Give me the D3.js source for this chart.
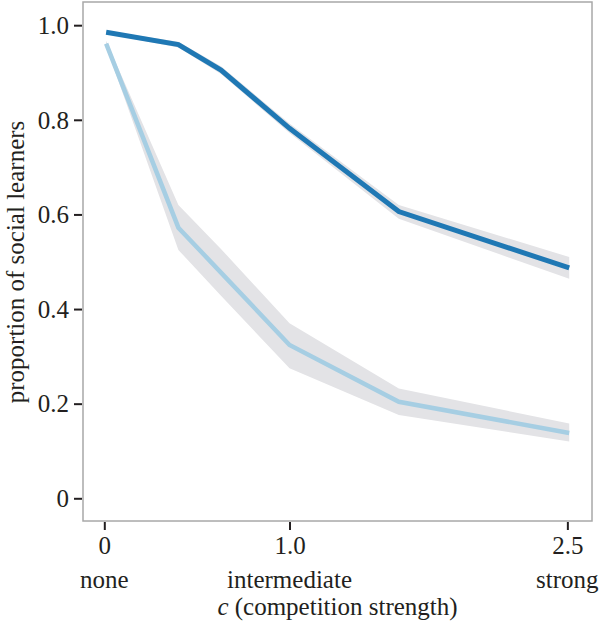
<!DOCTYPE html>
<html>
<head>
<meta charset="utf-8">
<script src="https://cdn.jsdelivr.net/npm/d3@7"></script>
<style>
  html, body { margin: 0; padding: 0; background: #fff; }
  svg { display: block; }
  text { font-family: "Liberation Serif", "DejaVu Serif", serif; fill: #231f20; }
</style>
</head>
<body>
<svg id="chart" width="599" height="624"></svg>
<script>
// ---- data ----
const xValues = [0.01, 0.4, 0.63, 1.0, 1.59, 2.51];
const strongMean  = [0.985, 0.959, 0.905, 0.782, 0.606, 0.487];
const strongLower = [0.982, 0.953, 0.897, 0.772, 0.591, 0.464];
const strongUpper = [0.988, 0.965, 0.913, 0.792, 0.620, 0.510];

const weakMean  = [0.961, 0.572, 0.477, 0.324, 0.204, 0.138];
const weakLower = [0.955, 0.525, 0.428, 0.275, 0.176, 0.120];
const weakUpper = [0.967, 0.620, 0.527, 0.370, 0.232, 0.158];

const yTicks = [0, 0.2, 0.4, 0.6, 0.8, 1.0];
const yTickLabels = ["0", "0.2", "0.4", "0.6", "0.8", "1.0"];
const xTicks = [0, 1.0, 2.5];
const xTickLabels = ["0", "1.0", "2.5"];
const xCategoryLabels = ["none", "intermediate", "strong"];

// ---- layout ----
const svg = d3.select("#chart");
const mLeft = 83, mRight = 592, mTop = 2, mBottom = 521;
const fs = 25;

const x = d3.scaleLinear().domain([-0.115, 2.633]).range([mLeft, mRight]);
const y = d3.scaleLinear().domain([-0.048, 1.049]).range([mBottom, mTop]);

// panel frame
svg.append("rect")
  .attr("x", mLeft).attr("y", mTop)
  .attr("width", mRight - mLeft).attr("height", mBottom - mTop)
  .attr("fill", "none").attr("stroke", "#a8a8a8").attr("stroke-width", 1.5);

const area = (lo, hi) => d3.area()
  .x((d, i) => x(xValues[i]))
  .y0((d, i) => y(lo[i]))
  .y1((d, i) => y(hi[i]));
const line = vals => d3.line()
  .x((d, i) => x(xValues[i]))
  .y((d, i) => y(vals[i]));

// bands
svg.append("path").datum(weakMean).attr("d", area(weakLower, weakUpper))
  .attr("fill", "#e3e3e6");
svg.append("path").datum(strongMean).attr("d", area(strongLower, strongUpper))
  .attr("fill", "#e3e3e6");

// lines
svg.append("path").datum(weakMean).attr("d", line(weakMean))
  .attr("fill", "none").attr("stroke", "#a6cee3").attr("stroke-width", 4.5);
svg.append("path").datum(strongMean).attr("d", line(strongMean))
  .attr("fill", "none").attr("stroke", "#1f78b4").attr("stroke-width", 5);

// y axis
const yAxis = d3.axisLeft(y).tickValues(yTicks)
  .tickFormat((d, i) => yTickLabels[i]).tickSize(8).tickPadding(5);
const gy = svg.append("g").attr("transform", `translate(${mLeft - 1},0)`).call(yAxis);
gy.select(".domain").remove();
gy.selectAll(".tick line").attr("stroke", "#231f20").attr("stroke-width", 2);
gy.selectAll(".tick text").attr("font-size", fs).attr("dy", "0.33em")
  .style("font-family", "'Liberation Serif', serif").attr("fill", "#231f20");

// x axis
const xAxis = d3.axisBottom(x).tickValues(xTicks)
  .tickFormat((d, i) => xTickLabels[i]).tickSize(8).tickPadding(6);
const gx = svg.append("g").attr("transform", `translate(0,${mBottom + 1})`).call(xAxis);
gx.select(".domain").remove();
gx.selectAll(".tick line").attr("stroke", "#231f20").attr("stroke-width", 2);
gx.selectAll(".tick text").attr("font-size", fs).attr("dy", "0.71em")
  .style("font-family", "'Liberation Serif', serif").attr("fill", "#231f20");

// category labels
svg.selectAll(".cat").data(xCategoryLabels).enter().append("text")
  .attr("class", "cat")
  .attr("x", (d, i) => x(xTicks[i]))
  .attr("y", 588)
  .attr("text-anchor", "middle")
  .attr("font-size", fs)
  .text(d => d);

// x title
const xt = svg.append("text")
  .attr("x", (mLeft + mRight) / 2).attr("y", 615)
  .attr("text-anchor", "middle").attr("font-size", fs);
xt.append("tspan").attr("font-style", "italic").text("c");
xt.append("tspan").text(" (competition strength)");

// y title
svg.append("text")
  .attr("transform", `translate(24,${(122 + 402) / 2}) rotate(-90)`)
  .attr("text-anchor", "middle").attr("font-size", fs)
  .text("proportion of social learners");
</script>
</body>
</html>
